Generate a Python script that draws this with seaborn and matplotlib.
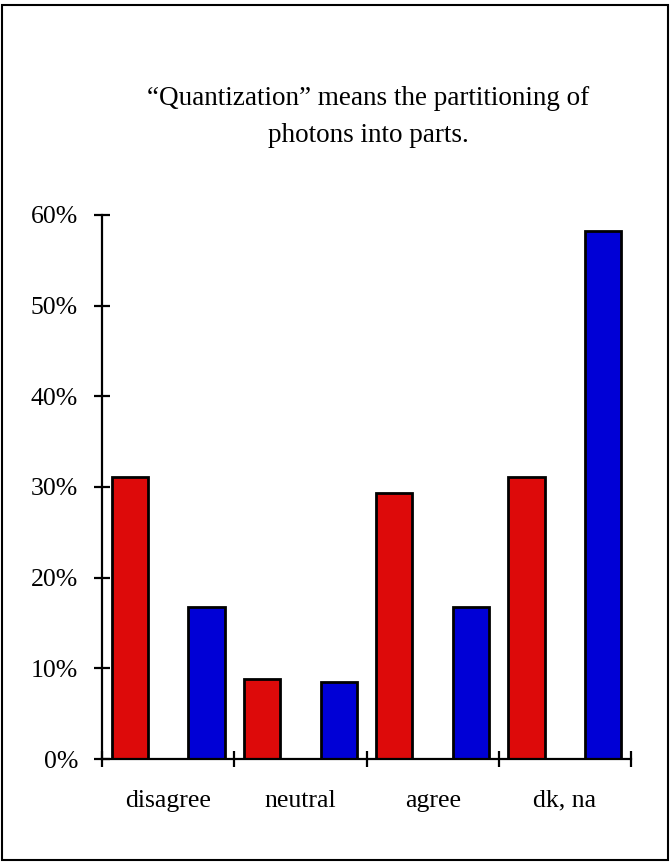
import matplotlib
matplotlib.use("Agg")
import matplotlib.pyplot as plt
from matplotlib.patches import Rectangle
from matplotlib.ticker import PercentFormatter, FixedLocator
import seaborn as sns
import pandas as pd

categories = ["disagree", "neutral", "agree", "dk, na"]
series_names = ["Group 1", "Group 2"]
group1 = [0.311, 0.088, 0.293, 0.311]
group2 = [0.168, 0.085, 0.168, 0.582]
title = "\u201cQuantization\u201d means the partitioning of\nphotons into parts."

df = pd.DataFrame({
    "category": categories * 2,
    "series": [series_names[0]] * 4 + [series_names[1]] * 4,
    "value": group1 + group2,
})

sns.set_theme(style="white")
plt.rcParams["font.family"] = ["Liberation Serif", "DejaVu Serif"]

fig = plt.figure(figsize=(6.7, 8.65), dpi=100)
ax = fig.add_axes([102 / 670, 1 - 759 / 865, (631 - 102) / 670, (759 - 215) / 865])

sns.barplot(data=df, x="category", y="value", hue="series", order=categories,
            hue_order=series_names, palette=["#DD0A0A", "#0000D6"], saturation=1,
            width=1.16, gap=0.53, edgecolor="black", linewidth=2,
            errorbar=None, legend=False, ax=ax, zorder=2)

ax.set_xlim(-0.5, 3.5)
ax.set_ylim(0, 0.6)
ax.set_xlabel("")
ax.set_ylabel("")
ax.yaxis.set_major_locator(FixedLocator([0, 0.1, 0.2, 0.3, 0.4, 0.5, 0.6]))
ax.yaxis.set_major_formatter(PercentFormatter(1.0, decimals=0))

for s in ["top", "right"]:
    ax.spines[s].set_visible(False)
for s in ["left", "bottom"]:
    ax.spines[s].set_linewidth(1.6)
    ax.spines[s].set_color("black")
    ax.spines[s].set_zorder(3)

ax.tick_params(axis="y", which="major", direction="inout", length=11.5, width=1.6,
               color="black", labelsize=18.5, pad=11.5, left=True, labelcolor="black")
ax.set_xticks(range(len(categories)))
ax.set_xticklabels(categories)
ax.set_xticks([-0.5, 0.5, 1.5, 2.5, 3.5], minor=True)
ax.tick_params(axis="x", which="major", length=0, labelsize=18.5, pad=22, labelcolor="black")
ax.tick_params(axis="x", which="minor", direction="inout", length=11.5, width=1.6,
               color="black", bottom=True)

fig.text(368 / 670, 1 - 117 / 865, title, ha="center", va="center",
         fontsize=19.5, linespacing=1.65, color="black")

fig.add_artist(Rectangle((2 / 670, 1 - 860 / 865), 666 / 670, 855 / 865,
                         transform=fig.transFigure, fill=False,
                         edgecolor="black", linewidth=1.5))

fig.savefig("out.png", dpi=100)
